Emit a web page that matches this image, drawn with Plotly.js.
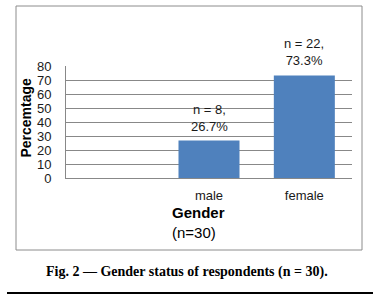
<!DOCTYPE html>
<html>
<head>
<meta charset="utf-8">
<script src="https://cdn.plot.ly/plotly-3.0.1.min.js"></script>
<style>html,body{margin:0;padding:0;background:#fff;}#chart{width:375px;height:301px;}</style>
</head>
<body>
<div id="chart"></div>
<script>
var categories = ["male", "female"];
var percentages = [26.7, 73.3];
var counts = [8, 22];
var yTicks = [0, 10, 20, 30, 40, 50, 60, 70, 80];
var barLabels = categories.map(function (c, i) {
  return "n = " + counts[i] + ",<br>" + percentages[i].toFixed(1) + "%";
});

var trace = {
  type: "bar",
  x: categories,
  y: percentages,
  cliponaxis: false,
  marker: {color: "#4f81bd", line: {width: 0}},
  width: 0.64,
  hoverinfo: "none"
};

var labelAnnotations = categories.map(function (c, i) {
  return {xref: "x", yref: "y", x: c, y: percentages[i], text: barLabels[i],
    showarrow: false, xanchor: "center", yanchor: "bottom", yshift: 5,
    font: {size: 13, color: "#1a1a1a"}};
});

var layout = {
  width: 375,
  height: 301,
  margin: {l: 66, r: 23, t: 66, b: 123, pad: 0},
  paper_bgcolor: "#ffffff",
  plot_bgcolor: "#ffffff",
  showlegend: false,
  font: {family: "Liberation Sans, Arial, sans-serif", size: 13, color: "#1a1a1a"},
  xaxis: {
    type: "category",
    range: [-1.5, 1.5],
    showgrid: false,
    showline: true,
    linecolor: "#888888",
    linewidth: 1,
    ticks: "",
    tickfont: {size: 13, color: "#1a1a1a"},
    ticklabelstandoff: 5,
    fixedrange: true
  },
  yaxis: {
    range: [0, 80],
    tickvals: yTicks,
    ticktext: yTicks.map(String),
    showgrid: true,
    gridcolor: "#888888",
    gridwidth: 1,
    showline: true,
    linecolor: "#888888",
    linewidth: 1,
    zeroline: false,
    ticks: "",
    tickfont: {size: 13, color: "#1a1a1a"},
    ticklabelstandoff: 11,
    fixedrange: true
  },
  shapes: [
    {type: "rect", xref: "paper", yref: "paper", x0: -0.1748, x1: 1.035, y0: -0.6429, y1: 1.5357,
     line: {color: "#8c8c8c", width: 1}, fillcolor: "rgba(0,0,0,0)", layer: "below"},
    {type: "line", xref: "paper", yref: "paper", x0: -0.2063, x1: 1.0734, y0: -1.0268, y1: -1.0268,
     line: {color: "#000000", width: 2}}
  ],
  annotations: labelAnnotations.concat([
    {xref: "paper", yref: "paper", x: -0.143, y: 0.54, text: "<b>Percemtage</b>", textangle: -90,
     showarrow: false, font: {size: 14, color: "#000000"}, xanchor: "center", yanchor: "middle"},
    {xref: "paper", yref: "paper", x: 0.3636, y: -0.395, text: "<b>Gender</b><br>(n=30)", align: "left",
     showarrow: false, font: {size: 15, color: "#000000"}, xanchor: "left", yanchor: "middle"},
    {xref: "paper", yref: "paper", x: 0.423, y: -0.839, text: "<b>Fig. 2 \u2014 Gender status of respondents (n = 30).</b>",
     showarrow: false, font: {family: "Liberation Serif, DejaVu Serif, serif", size: 14, color: "#000000"},
     xanchor: "center", yanchor: "middle"}
  ])
};

Plotly.newPlot("chart", [trace], layout, {staticPlot: true, displayModeBar: false});
</script>
</body>
</html>
